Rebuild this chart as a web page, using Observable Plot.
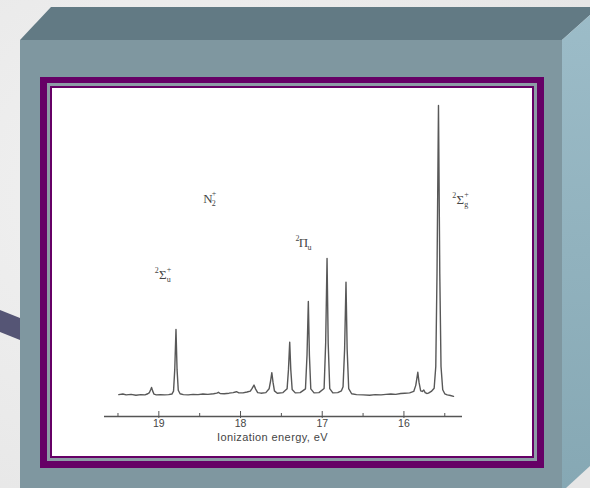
<!DOCTYPE html>
<html><head><meta charset="utf-8">
<script src="https://cdn.jsdelivr.net/npm/d3@7"></script>
<script src="https://cdn.jsdelivr.net/npm/@observablehq/plot@0.6"></script>
<style>
html,body{margin:0;padding:0;}
body{width:590px;height:488px;overflow:hidden;position:relative;background:#ececec;font-family:"Liberation Sans",sans-serif;}
#deco{position:absolute;left:0;top:0;}
#chart{position:absolute;left:52px;top:88px;width:480px;height:368px;background:#fff;}
</style></head><body>
<svg id="deco" width="590" height="488">
  <defs>
    <linearGradient id="side" x1="0" y1="0" x2="0" y2="1">
      <stop offset="0" stop-color="#9cbcc8"/>
      <stop offset="1" stop-color="#86a8b4"/>
    </linearGradient>
    <radialGradient id="bgm" cx="0.3" cy="0.4" r="0.8">
      <stop offset="0" stop-color="#f2f2f2"/>
      <stop offset="1" stop-color="#e6e6e6"/>
    </radialGradient>
  </defs>
  <rect width="590" height="488" fill="url(#bgm)"/>
  <polygon points="0,310 20,318 20,340 0,332" fill="#555575"/>
  <polygon points="20,40 51,7 590,7 590,15 562,40" fill="#627a84"/>
  <polygon points="562,40 590,15 590,466 566,488 562,488" fill="url(#side)"/>
  <rect x="20" y="40" width="542" height="448" fill="#7f97a0"/>
  <rect x="40" y="77" width="504" height="391" fill="#660066"/>
  <rect x="47" y="83" width="490" height="378" fill="#8d9ca6"/>
  <rect x="50" y="86" width="484" height="372" fill="#660066"/>
  <rect x="52" y="88" width="480" height="368" fill="#ffffff"/>
</svg>
<div id="chart"></div>
<script>
// Photoelectron spectrum of N2 (intensity, relative units)
const spectrumE = [
  19.49, 19.44, 19.40, 19.34, 19.28, 19.22, 19.17, 19.135,
  19.115, 19.100, 19.089, 19.076, 19.060, 19.03, 18.98, 18.93, 18.88, 18.84,
  18.820, 18.805, 18.790, 18.777, 18.762, 18.74, 18.70, 18.64, 18.58, 18.52,
  18.46, 18.40, 18.33, 18.29, 18.27, 18.25, 18.20, 18.14, 18.09, 18.05, 18.02,
  17.97, 17.92, 17.88, 17.860, 17.835, 17.815, 17.79, 17.75, 17.69,
  17.650, 17.632, 17.617, 17.602, 17.585, 17.55, 17.48,
  17.430, 17.413, 17.398, 17.385, 17.368, 17.33, 17.27,
  17.205, 17.186, 17.170, 17.157, 17.140, 17.10, 17.04,
  16.977, 16.958, 16.941, 16.927, 16.908, 16.87, 16.81, 16.765,
  16.745, 16.726, 16.709, 16.695, 16.676, 16.64, 16.58, 16.50, 16.42,
  16.35, 16.28, 16.22, 16.16, 16.10, 16.04, 15.99, 15.93, 15.88,
  15.855, 15.830, 15.815, 15.795, 15.775, 15.757, 15.740, 15.72, 15.70, 15.665,
  15.630, 15.610, 15.595, 15.577, 15.561, 15.546, 15.525, 15.50, 15.47, 15.43, 15.393
];
const spectrumI = [
  0.3, 0.5, 0.2, 0.4, 0.1, 0.3, 0.2, 0.6,
  1.0, 2.0, 2.8, 1.6, 0.5, 0.2, 0.3, 0.2, 0.3, 0.5,
  1.5, 9.0, 22.8, 9.0, 1.8, 0.6, 0.3, 0.2, 0.4, 0.3,
  0.5, 0.4, 0.6, 0.8, 1.1, 0.7, 0.6, 0.8, 1.0, 1.3, 0.9,
  0.9, 1.2, 1.5, 2.4, 3.6, 2.2, 1.0, 0.8, 1.0,
  2.3, 5.0, 7.9, 4.5, 1.6, 0.8, 1.0,
  2.3, 9.0, 18.4, 9.0, 2.1, 0.9, 1.0,
  2.3, 14.0, 32.4, 14.0, 2.3, 0.9, 1.0,
  2.4, 18.0, 47.3, 18.0, 2.4, 0.9, 1.0, 1.6,
  3.0, 16.0, 39.1, 16.0, 2.4, 0.6, 0.3, 0.2, 0.1,
  0.3, 0.2, 0.4, 0.5, 0.4, 0.7, 0.8, 0.9, 1.4,
  3.5, 8.0, 4.5, 1.6, 1.4, 1.9, 1.0, 0.7, 0.8, 1.4,
  2.5, 10.0, 42.0, 100, 42.0, 10.0, 2.0, 0.6, 0.2, 0.0, -0.3
];
const majorTicks = [19, 18, 17, 16];
const minorTicks = [19.5, 18.5, 17.5, 16.5, 15.5];
const xTitle = "Ionization energy, eV";

// state labels: main glyph, leading superscript, subscript, trailing superscript
const labelBase = ["N", "Σ", "Π", "Σ"];
const labelPre  = ["", "2", "2", "2"];
const labelSub  = ["2", "u", "u", "g"];
const labelSup  = ["+", "+", "", "+"];
const labelE    = [18.40, 18.953, 17.229, 15.31];
const labelI    = [67.9, 41.7, 52.8, 67.6];

const spectrum = spectrumE.map((e, i) => ({e, v: spectrumI[i]}));
const labels = labelBase.map((b, i) => ({b, pre: labelPre[i], sub: labelSub[i], sup: labelSup[i], e: labelE[i], v: labelI[i]}));

const yMin = -7.241;
const ink = "#454545";
const serif = "Liberation Serif, serif";

const chart = Plot.plot({
  width: 480, height: 368,
  marginLeft: 52, marginRight: 70, marginTop: 17, marginBottom: 40,
  style: {background: "#fff", color: ink, fontFamily: "Liberation Sans, sans-serif", overflow: "visible"},
  x: {domain: [19.665, 15.283], axis: null, label: null},
  y: {domain: [yMin, 100], axis: null, label: null},
  marks: [
    Plot.ruleY([yMin], {stroke: "#555", strokeWidth: 1.4}),
    Plot.tickX(minorTicks, {x: d => d, insetTop: 308, insetBottom: 0, stroke: "#555", strokeWidth: 1}),
    Plot.tickX(majorTicks, {x: d => d, insetTop: 306, insetBottom: -2, stroke: "#555", strokeWidth: 1}),
    Plot.text(majorTicks, {x: d => d, text: d => String(d), frameAnchor: "bottom", dy: 10, fontSize: 10.5, fill: ink}),
    Plot.text([xTitle], {frameAnchor: "bottom", dx: -11, dy: 24.5, fontSize: 11, fill: ink}),
    Plot.line(spectrum, {x: "e", y: "v", stroke: "#585858", strokeWidth: 1.4, strokeLinejoin: "round"}),
    Plot.text(labels, {x: "e", y: "v", text: "b", fontSize: 13, fontFamily: serif, fill: ink}),
    Plot.text(labels, {x: "e", y: "v", text: "pre", textAnchor: "end", dx: -4, dy: -4, fontSize: 8, fontFamily: serif, fill: ink}),
    Plot.text(labels, {x: "e", y: "v", text: "sub", textAnchor: "start", dx: 4, dy: 5, fontSize: 8, fontFamily: serif, fill: ink}),
    Plot.text(labels, {x: "e", y: "v", text: "sup", textAnchor: "start", dx: 4, dy: -5, fontSize: 8, fontFamily: serif, fill: ink})
  ]
});
d3.select(chart).selectAll("text").filter(function() { return this.textContent === xTitle; }).attr("letter-spacing", "0.4");
document.getElementById("chart").appendChild(chart);
</script>
</body></html>
